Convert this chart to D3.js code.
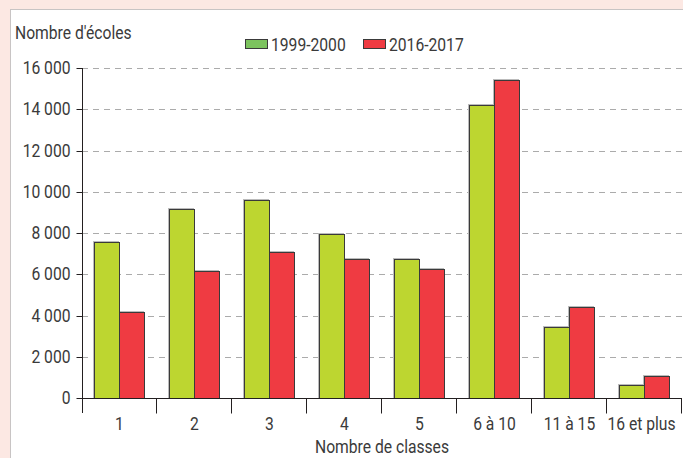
<!DOCTYPE html>
<html>
<head>
<meta charset="utf-8">
<script src="https://cdn.jsdelivr.net/npm/d3@7"></script>
<style>
  body { margin: 0; background: #fce8e3; }
  svg text { font-family: "Roboto", "Liberation Sans", sans-serif; font-weight: 400; fill: #3a3a3a; }
</style>
</head>
<body>
<div id="chart"></div>
<script>
// chart data
var categories = ["1", "2", "3", "4", "5", "6 à 10", "11 à 15", "16 et plus"];
var seriesNames = ["1999-2000", "2016-2017"];
var values1999 = [7550, 9160, 9600, 7950, 6740, 14200, 3440, 620];
var values2016 = [4180, 6160, 7080, 6740, 6240, 15420, 4430, 1080];
var yTicks = [0, 2000, 4000, 6000, 8000, 10000, 12000, 14000, 16000];

var svgWidth = 683;
var svgHeight = 458;

var margin = { top: 68, right: 1, bottom: 60, left: 82 };
var width = svgWidth - margin.left - margin.right;
var height = svgHeight - margin.top - margin.bottom;

var fontSize = "18px";
var squeeze = 0.87; // the original uses a condensed face

var barColors = ["#bdd630", "#ef3b42"];
var legendColors = ["#7cc35e", "#ef3b42"];

var svg = d3.select("#chart")
  .append("svg")
  .attr("width", svgWidth)
  .attr("height", svgHeight);

// white panel
svg.append("rect")
  .attr("x", 10.5)
  .attr("y", 9.5)
  .attr("width", svgWidth)
  .attr("height", svgHeight)
  .attr("fill", "#fff")
  .attr("stroke", "#c8c4c4");

var chartGroup = svg.append("g")
  .attr("transform", `translate(${margin.left}, ${margin.top})`);

var xScale = d3.scaleBand()
  .domain(categories)
  .range([0, width]);

var xInner = d3.scaleBand()
  .domain(seriesNames)
  .range([12, xScale.bandwidth() - 13]);

var yScale = d3.scaleLinear()
  .domain([0, 16000])
  .range([height, 0]);

// dashed grid
chartGroup.selectAll(".grid")
  .data(yTicks.filter(d => d > 0))
  .enter()
  .append("line")
  .attr("x1", 0)
  .attr("x2", width)
  .attr("y1", d => Math.round(yScale(d)) + 0.5)
  .attr("y2", d => Math.round(yScale(d)) + 0.5)
  .attr("stroke", "#ababab")
  .attr("stroke-dasharray", "6,5");

// bars
var rows = categories.map((c, i) => ({ cat: c, vals: [values1999[i], values2016[i]] }));

var groups = chartGroup.selectAll(".cat")
  .data(rows)
  .enter()
  .append("g")
  .attr("transform", d => `translate(${xScale(d.cat)}, 0)`);

// light offset edge behind each bar
groups.selectAll("rect.shadow")
  .data(d => d.vals.map((v, j) => ({ name: seriesNames[j], v: v, j: j })))
  .enter()
  .append("rect")
  .attr("x", d => Math.round(xInner(d.name)) - 0.5)
  .attr("y", d => Math.round(yScale(d.v)) - 0.5)
  .attr("width", xInner.bandwidth())
  .attr("height", d => height - Math.round(yScale(d.v)))
  .attr("fill", "none")
  .attr("stroke", "#bbb")
  .attr("stroke-width", 1);

groups.selectAll("rect.bar")
  .data(d => d.vals.map((v, j) => ({ name: seriesNames[j], v: v, j: j })))
  .enter()
  .append("rect")
  .attr("x", d => Math.round(xInner(d.name)) + 0.5)
  .attr("y", d => Math.round(yScale(d.v)) + 0.5)
  .attr("width", xInner.bandwidth())
  .attr("height", d => height - Math.round(yScale(d.v)))
  .attr("fill", d => barColors[d.j])
  .attr("stroke", "#3a3a3a")
  .attr("stroke-width", 1);

// y axis
var leftAxis = d3.axisLeft(yScale)
  .tickValues(yTicks)
  .tickSize(6)
  .tickPadding(6)
  .tickFormat(d => d3.format(",")(d).replace(",", " "));

var yAxis = chartGroup.append("g")
  .attr("transform", "translate(0.5, 0)")
  .call(leftAxis);
yAxis.select(".domain").remove();
yAxis.attr("font-family", null).attr("font-size", null);
yAxis.selectAll(".tick line").attr("stroke", "#231f20");
yAxis.selectAll(".tick text")
  .attr("font-size", fontSize)
  .attr("fill", null);
yAxis.selectAll(".tick").attr("transform", d => `translate(0, ${Math.round(yScale(d)) + 0.5})`);
yAxis.append("line")
  .attr("x1", 0).attr("x2", 0)
  .attr("y1", 0).attr("y2", height + 15)
  .attr("stroke", "#231f20");

// x axis
var xAxis = chartGroup.append("g")
  .attr("transform", `translate(0, ${height + 0.5})`);
xAxis.append("line")
  .attr("x1", 0).attr("x2", width)
  .attr("stroke", "#231f20");
xAxis.selectAll(".sep")
  .data(categories.slice(1).concat(["end"]))
  .enter()
  .append("line")
  .attr("x1", (d, i) => Math.round(xScale.step() * (i + 1)) - 0.5)
  .attr("x2", (d, i) => Math.round(xScale.step() * (i + 1)) - 0.5)
  .attr("y1", 0)
  .attr("y2", 15)
  .attr("stroke", "#231f20");
xAxis.selectAll(".lbl")
  .data(categories)
  .enter()
  .append("text")
  .attr("x", (d, i) => i === categories.length - 1 ? xScale(d) + xScale.bandwidth() / 2 - 3 : xScale(d) + xScale.bandwidth() / 2)
  .attr("y", 32)
  .attr("text-anchor", "middle")
  .attr("font-size", fontSize)
  .text(d => d);

// axis titles
svg.append("text")
  .attr("x", 15)
  .attr("y", 39)
  .attr("font-size", fontSize)
  .text("Nombre d'écoles");

svg.append("text")
  .attr("x", margin.left + width / 2)
  .attr("y", 453)
  .attr("text-anchor", "middle")
  .attr("font-size", fontSize)
  .text("Nombre de classes");

// legend
var legendX = [245, 363];
var legend = svg.selectAll(".legend")
  .data(seriesNames)
  .enter()
  .append("g")
  .attr("transform", (d, i) => `translate(${legendX[i]}, 39)`);
legend.append("rect")
  .attr("x", 0.5).attr("y", 0.5)
  .attr("width", 22).attr("height", 9)
  .attr("fill", (d, i) => legendColors[i])
  .attr("stroke", "#3a3a3a");
legend.append("text")
  .attr("x", 26)
  .attr("y", 11.5)
  .attr("font-size", fontSize)
  .text(d => d);

// squeeze every label horizontally (condensed look)
svg.selectAll("text").each(function() {
  var t = d3.select(this);
  var x = +t.attr("x") || 0;
  t.attr("x", x / squeeze)
    .attr("transform", `scale(${squeeze}, 1)`);
});
</script>
</body>
</html>
